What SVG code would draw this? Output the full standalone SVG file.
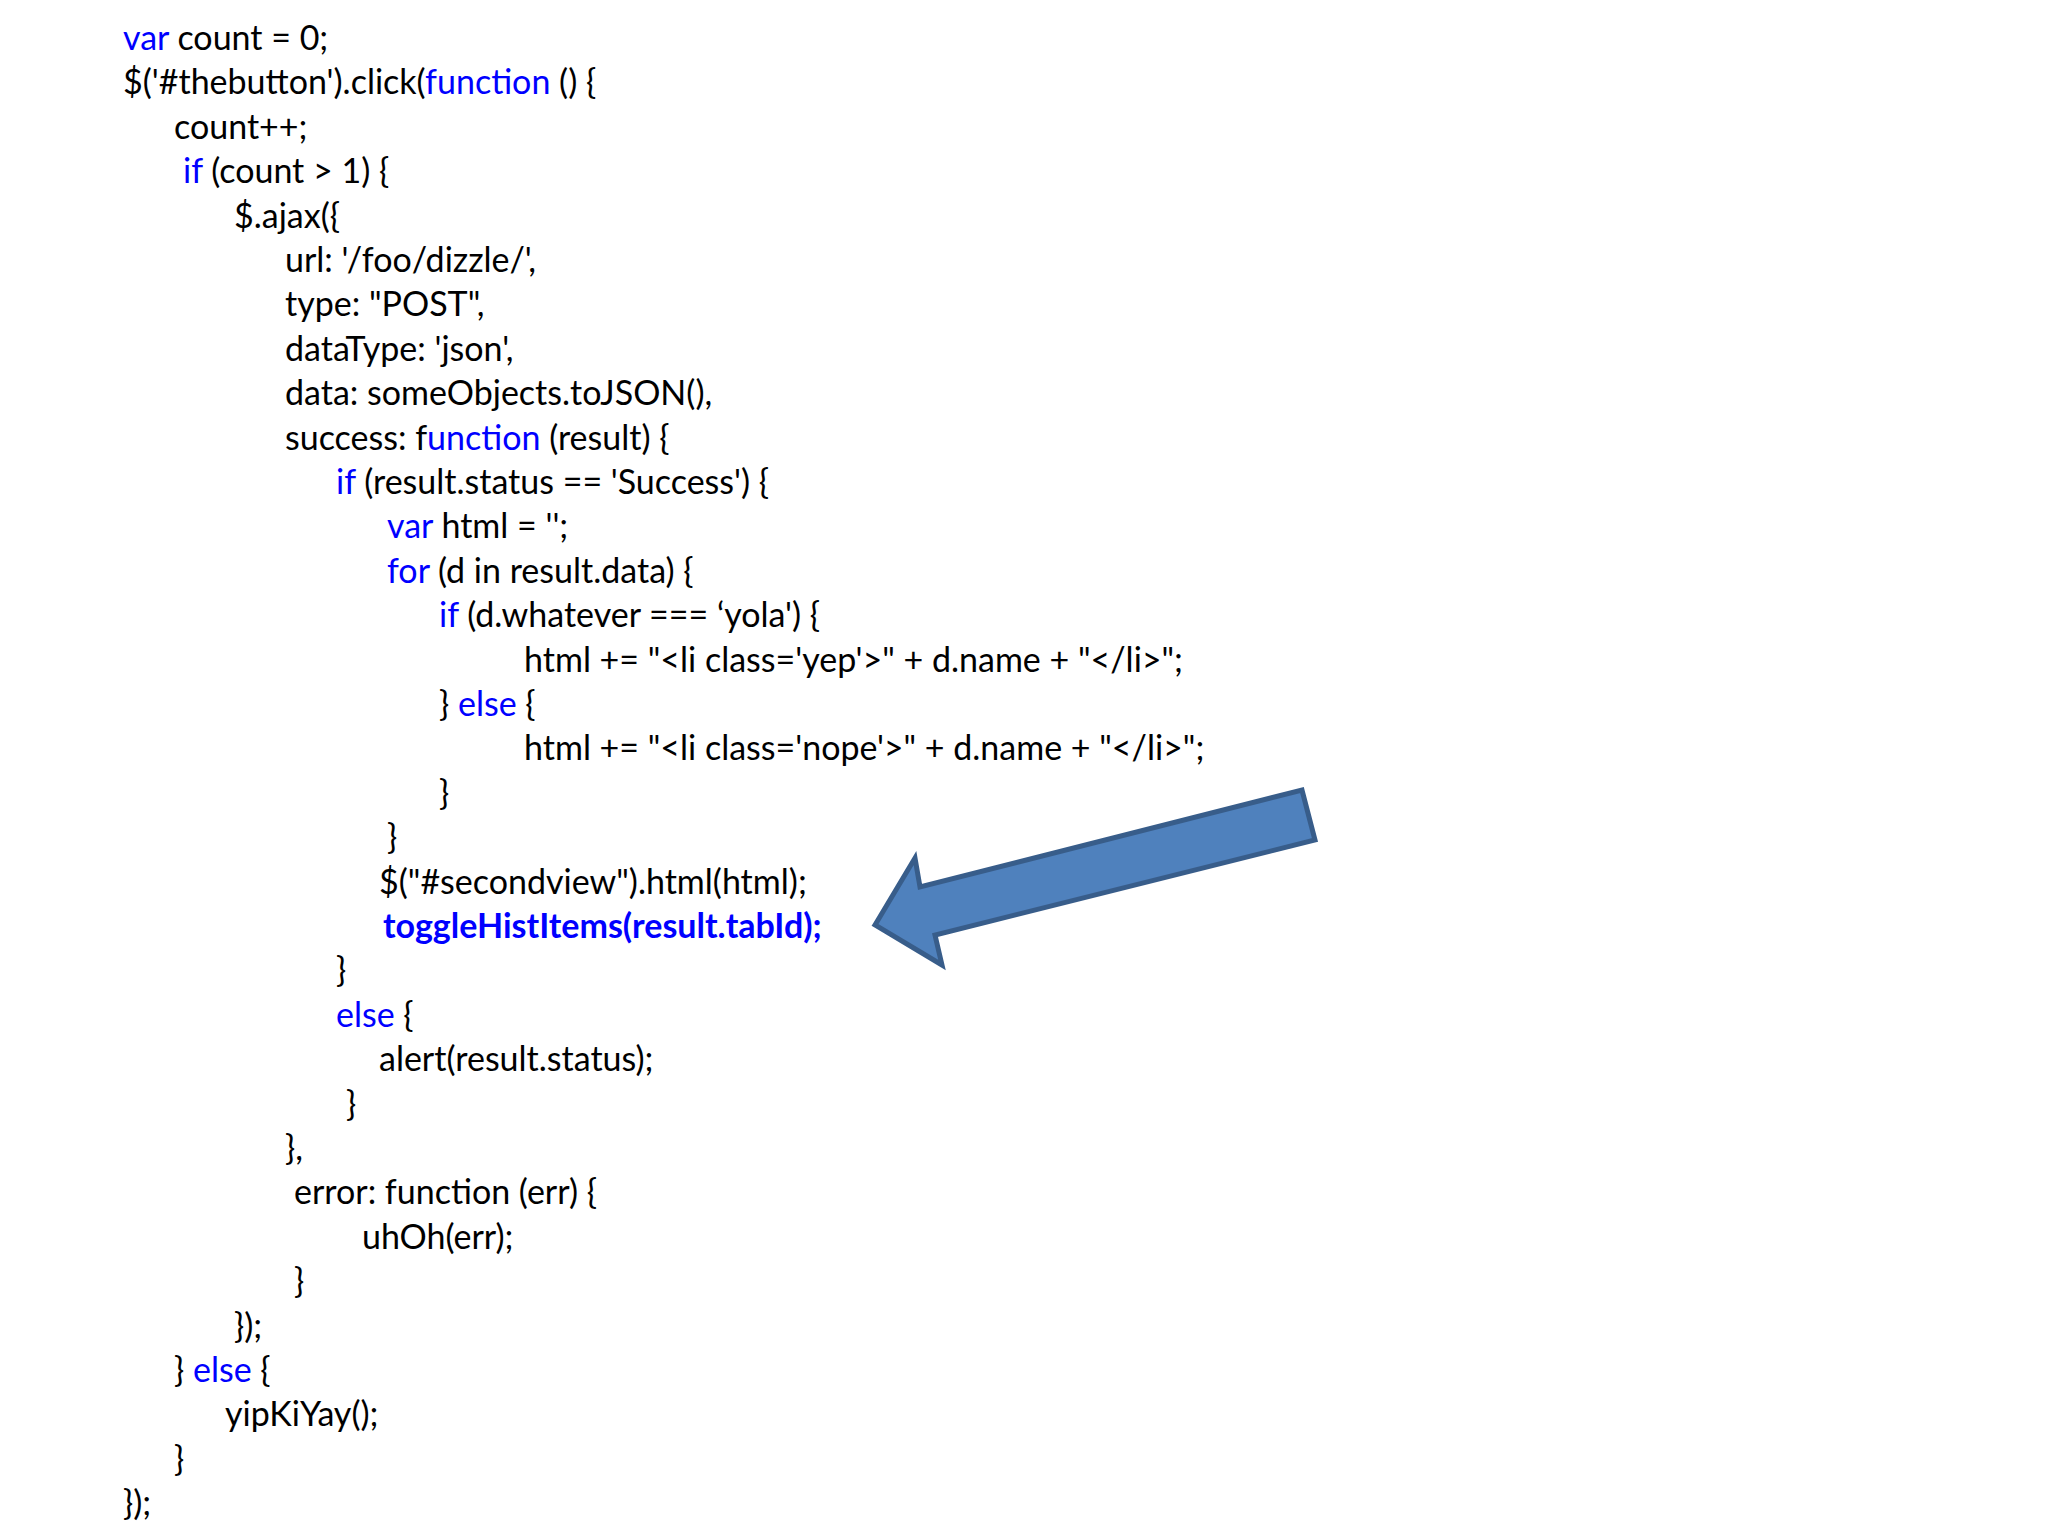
<svg xmlns="http://www.w3.org/2000/svg" width="2048" height="1536" viewBox="0 0 2048 1536">
<style>
text{font-family:Lato,"Open Sans",sans-serif;font-size:34px;fill:#000}
.k{fill:#0000ff}
.b{fill:#0000ff;font-weight:bold}
</style>
<rect width="2048" height="1536" fill="#fff"/>
<g id="code">
<text x="123" y="50"><tspan class="k">var</tspan> count = 0;</text>
<text x="123" y="94">$('#thebutton').click(<tspan class="k">function</tspan> () {</text>
<text x="174" y="139">count++;</text>
<text x="183" y="183"><tspan class="k">if</tspan> (count &gt; 1) {</text>
<text x="234" y="228">$.ajax({</text>
<text x="285" y="272">url: '/foo/dizzle/',</text>
<text x="285" y="316">type: "POST",</text>
<text x="285" y="361">dataType: 'json',</text>
<text x="285" y="405">data: someObjects.toJSON(),</text>
<text x="285" y="450">success: f<tspan class="k">unction</tspan> (result) {</text>
<text x="336" y="494"><tspan class="k">if</tspan> (result.status == 'Success') {</text>
<text x="387" y="538"><tspan class="k">var</tspan> html = '';</text>
<text x="387" y="583"><tspan class="k">for</tspan> (d in result.data) {</text>
<text x="439" y="627"><tspan class="k">if</tspan> (d.whatever === ‘yola') {</text>
<text x="524" y="672">html += "&lt;li class='yep'&gt;" + d.name + "&lt;/li&gt;";</text>
<text x="439" y="716">} <tspan class="k">else</tspan> {</text>
<text x="524" y="760">html += "&lt;li class='nope'&gt;" + d.name + "&lt;/li&gt;";</text>
<text x="439" y="805">}</text>
<text x="387" y="849">}</text>
<text x="379" y="894">$("#secondview").html(html);</text>
<text x="383" y="938" class="b">toggleHistItems(result.tabId);</text>
<text x="336" y="982">}</text>
<text x="336" y="1027"><tspan class="k">else</tspan> {</text>
<text x="379" y="1071">alert(result.status);</text>
<text x="346" y="1116">}</text>
<text x="285" y="1160">},</text>
<text x="294" y="1204">error: function (err) {</text>
<text x="362" y="1249">uhOh(err);</text>
<text x="294" y="1293">}</text>
<text x="234" y="1338">});</text>
<text x="174" y="1382">} <tspan class="k">else</tspan> {</text>
<text x="225" y="1426">yipKiYay();</text>
<text x="174" y="1471">}</text>
<text x="123" y="1515">});</text>
</g>
<g id="arrow">
<polygon points="875,925 915,858 920,887 1302,790 1315,840 935,935 942,965" fill="#4f81bd" stroke="#385d8a" stroke-width="5" stroke-linejoin="miter"/>
</g>
</svg>
